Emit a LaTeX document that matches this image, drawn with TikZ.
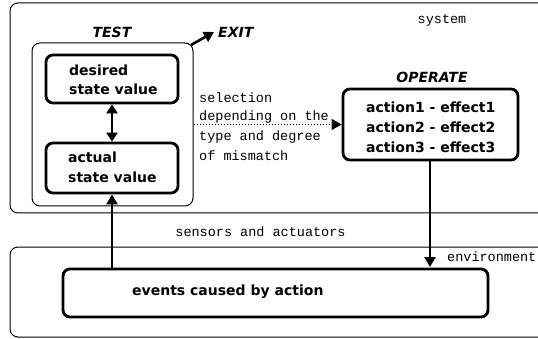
\documentclass[tikz,border=0pt]{standalone}
\usepackage{fontspec}
\setmainfont{DejaVu Sans}
\setmonofont{Liberation Mono}
\usetikzlibrary{arrows.meta}
\begin{document}
\begin{tikzpicture}[x=1pt,y=-1pt,
  thickbox/.style={draw,line width=2.8pt,rounded corners=7pt,inner sep=0pt},
  thinbox/.style={draw,line width=1pt,rounded corners=8pt},
  boldtxt/.style={font=\fontsize{14}{16}\selectfont\bfseries,inner sep=0pt,anchor=west},
  headtxt/.style={font=\fontsize{14}{16}\selectfont\bfseries\itshape,inner sep=0pt},
  monotxt/.style={font=\fontsize{13.5}{15}\selectfont\ttfamily,inner sep=0pt},
  arr/.style={line width=2.6pt,-{Triangle[length=10pt,width=11pt]}},
  darr/.style={line width=2.6pt,{Triangle[length=9pt,width=11pt]}-{Triangle[length=9pt,width=11pt]}}
]
\useasboundingbox (0,0) rectangle (538,339);
\clip (0,0) rectangle (538,339);
% outer regions
\draw[thinbox] (10,3) rectangle (570,213);
\draw[thinbox] (10,247) rectangle (570,337);
\node[monotxt] (system) at (442,20) {system};
\node[monotxt,anchor=west] (env) at (447,257) {environment};
\node[monotxt] (sens) at (260.5,232) {sensors and actuators};
% TEST
\node[draw,line width=1pt,rounded corners=8pt,minimum width=161pt,minimum height=163pt,inner sep=0pt] (test) at (112.5,124.5) {};
\node[headtxt] (testlbl) at (112,32) {TEST};
\node[thickbox,minimum width=132pt,minimum height=48pt] (des) at (112,79) {};
\node[boldtxt] (des1) at (69,70) {desired};
\node[boldtxt] (des2) at (69,89) {state value};
\node[thickbox,minimum width=132pt,minimum height=50pt] (act) at (112,168) {};
\node[boldtxt] (act1) at (68,157) {actual};
\node[boldtxt] (act2) at (68,177) {state value};
\draw[darr] (des) -- (act);
% EXIT
\coordinate (exitstart) at (191,45);
\coordinate (exittip) at (214,32);
\node[headtxt,anchor=west] (exit) at (218,32) {EXIT};
\draw[arr] (exitstart) -- (exittip);
% selection text
\node[monotxt,anchor=west] (s1) at (199,98) {selection};
\node[monotxt,anchor=west] (s2) at (199,117) {depending on the};
\node[monotxt,anchor=west] (s3) at (199,137) {type and degree};
\node[monotxt,anchor=west] (s4) at (199,156) {of mismatch};
% OPERATE
\node[thickbox,minimum width=175pt,minimum height=71pt] (op) at (430.5,124.5) {};
\node[headtxt] (oplbl) at (432,77) {OPERATE};
\node[boldtxt] (op1) at (366,107) {action1 - effect1};
\node[boldtxt] (op2) at (366,127) {action2 - effect2};
\node[boldtxt] (op3) at (366,147) {action3 - effect3};
\draw[dotted,line width=1pt,-{Triangle[length=10pt,width=11pt]}] (test.east |- op.west) -- (op.west);
% events
\node[thickbox,minimum width=425pt,minimum height=48pt] (ev) at (275.5,293) {};
\node[boldtxt] (evt) at (132,292) {events caused by action};
\coordinate (optip) at (430,267);
\draw[arr] (op.south -| optip) -- (optip);
\draw[arr] (ev.north -| 112,0) -- (act.south -| 112,0);
\end{tikzpicture}
\end{document}
